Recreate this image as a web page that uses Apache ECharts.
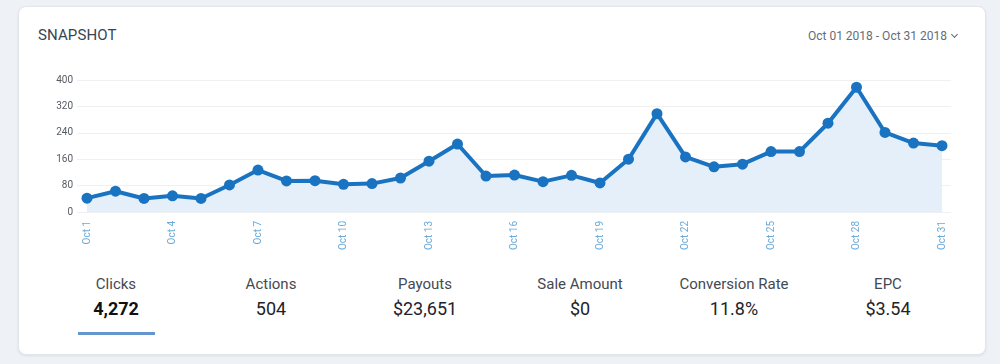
<!DOCTYPE html>
<html>
<head>
<meta charset="utf-8">
<script src="https://cdn.jsdelivr.net/npm/echarts@6/dist/echarts.min.js"></script>
<style>
  html, body { margin: 0; padding: 0; }
  body { width: 1000px; height: 364px; background: #eef2f6; position: relative; overflow: hidden; font-family: Roboto, "Noto Sans", sans-serif; }
  .card { position: absolute; left: 18px; top: 6px; width: 966px; height: 347px; background: #fff; border-radius: 8px; border: 1px solid #e2e6eb; box-shadow: 0 1px 3px rgba(0,0,0,0.08); }
  .title { position: absolute; left: 38px; top: 26px; font-size: 15px; color: #3a4450; letter-spacing: 0.1px; }
  .range { position: absolute; right: 43px; top: 29px; font-size: 12px; color: #666d75; }
  .chev { display: inline-block; width: 4px; height: 4px; border-right: 1.2px solid #666d75; border-bottom: 1.2px solid #666d75; transform: rotate(45deg); margin-left: 5px; position: relative; top: -3px; }
  #chart { position: absolute; left: 0; top: 0; width: 1000px; height: 260px; }
  .stat { position: absolute; width: 160px; text-align: center; }
  .stat .lbl { font-size: 15px; color: #444a52; line-height: 18px; }
  .stat .val { font-size: 18px; color: #1f2329; line-height: 22px; margin-top: 5px; }
  .stat .val.bold { font-weight: bold; color: #111; }
  .underline { position: absolute; left: 78px; top: 332px; width: 77px; height: 3px; background: #6595cd; }
</style>
</head>
<body>
<div class="card"></div>
<div class="title">SNAPSHOT</div>
<div class="range">Oct 01 2018 - Oct 31 2018<span class="chev"></span></div>
<div id="chart"></div>
<div id="stats"></div>
<div class="underline"></div>
<script>
const days = ['Oct 1','Oct 2','Oct 3','Oct 4','Oct 5','Oct 6','Oct 7','Oct 8','Oct 9','Oct 10','Oct 11','Oct 12','Oct 13','Oct 14','Oct 15','Oct 16','Oct 17','Oct 18','Oct 19','Oct 20','Oct 21','Oct 22','Oct 23','Oct 24','Oct 25','Oct 26','Oct 27','Oct 28','Oct 29','Oct 30','Oct 31'];
const clicks = [42,63,41,49,41,82,127,94,95,84,86,103,154,206,109,112,92,111,88,160,298,167,137,145,183,183,269,378,241,209,201];
const yTicks = [0,80,160,240,320,400];
const statLabels = ['Clicks','Actions','Payouts','Sale Amount','Conversion Rate','EPC'];
const statValues = ['4,272','504','$23,651','$0','11.8%','$3.54'];

const statsEl = document.getElementById('stats');
const centers = [116, 271, 425, 580, 734, 888];
statLabels.forEach((l, i) => {
  const d = document.createElement('div');
  d.className = 'stat';
  d.style.left = (centers[i] - 80) + 'px';
  d.style.top = '275px';
  d.innerHTML = '<div class="lbl">' + l + '</div><div class="val' + (i === 0 ? ' bold' : '') + '">' + statValues[i] + '</div>';
  statsEl.appendChild(d);
});

const chart = echarts.init(document.getElementById('chart'), null, { renderer: 'canvas' });
chart.setOption({
  animation: false,
  grid: [
    { left: 77, right: 49, top: 80, bottom: 48 },
    { left: 87, right: 58, top: 80, bottom: 48 }
  ],
  xAxis: [
    { gridIndex: 0, type: 'category', data: days, show: false, boundaryGap: false },
    { gridIndex: 1, type: 'category', data: days, boundaryGap: false,
      axisLine: { show: false }, axisTick: { show: false },
      axisLabel: { interval: 2, rotate: 90, color: '#6aaad8', fontSize: 10, margin: 9, fontFamily: 'Roboto' } }
  ],
  yAxis: [
    { gridIndex: 0, type: 'value', min: yTicks[0], max: yTicks[yTicks.length - 1], interval: 80,
      axisLine: { show: false }, axisTick: { show: false },
      axisLabel: { color: '#555b62', fontSize: 10, margin: 4, fontFamily: 'Roboto' },
      splitLine: { lineStyle: { color: '#eef0f2', width: 1 } } },
    { gridIndex: 1, type: 'value', min: 0, max: 400, show: false, splitLine: { show: false } }
  ],
  series: [{
    type: 'line',
    xAxisIndex: 1, yAxisIndex: 1,
    data: clicks,
    symbol: 'circle', symbolSize: 11,
    lineStyle: { color: '#1a73c1', width: 4 },
    itemStyle: { color: '#1a73c1' },
    areaStyle: { color: '#e4eff9', opacity: 1 }
  }]
});
</script>
</body>
</html>
